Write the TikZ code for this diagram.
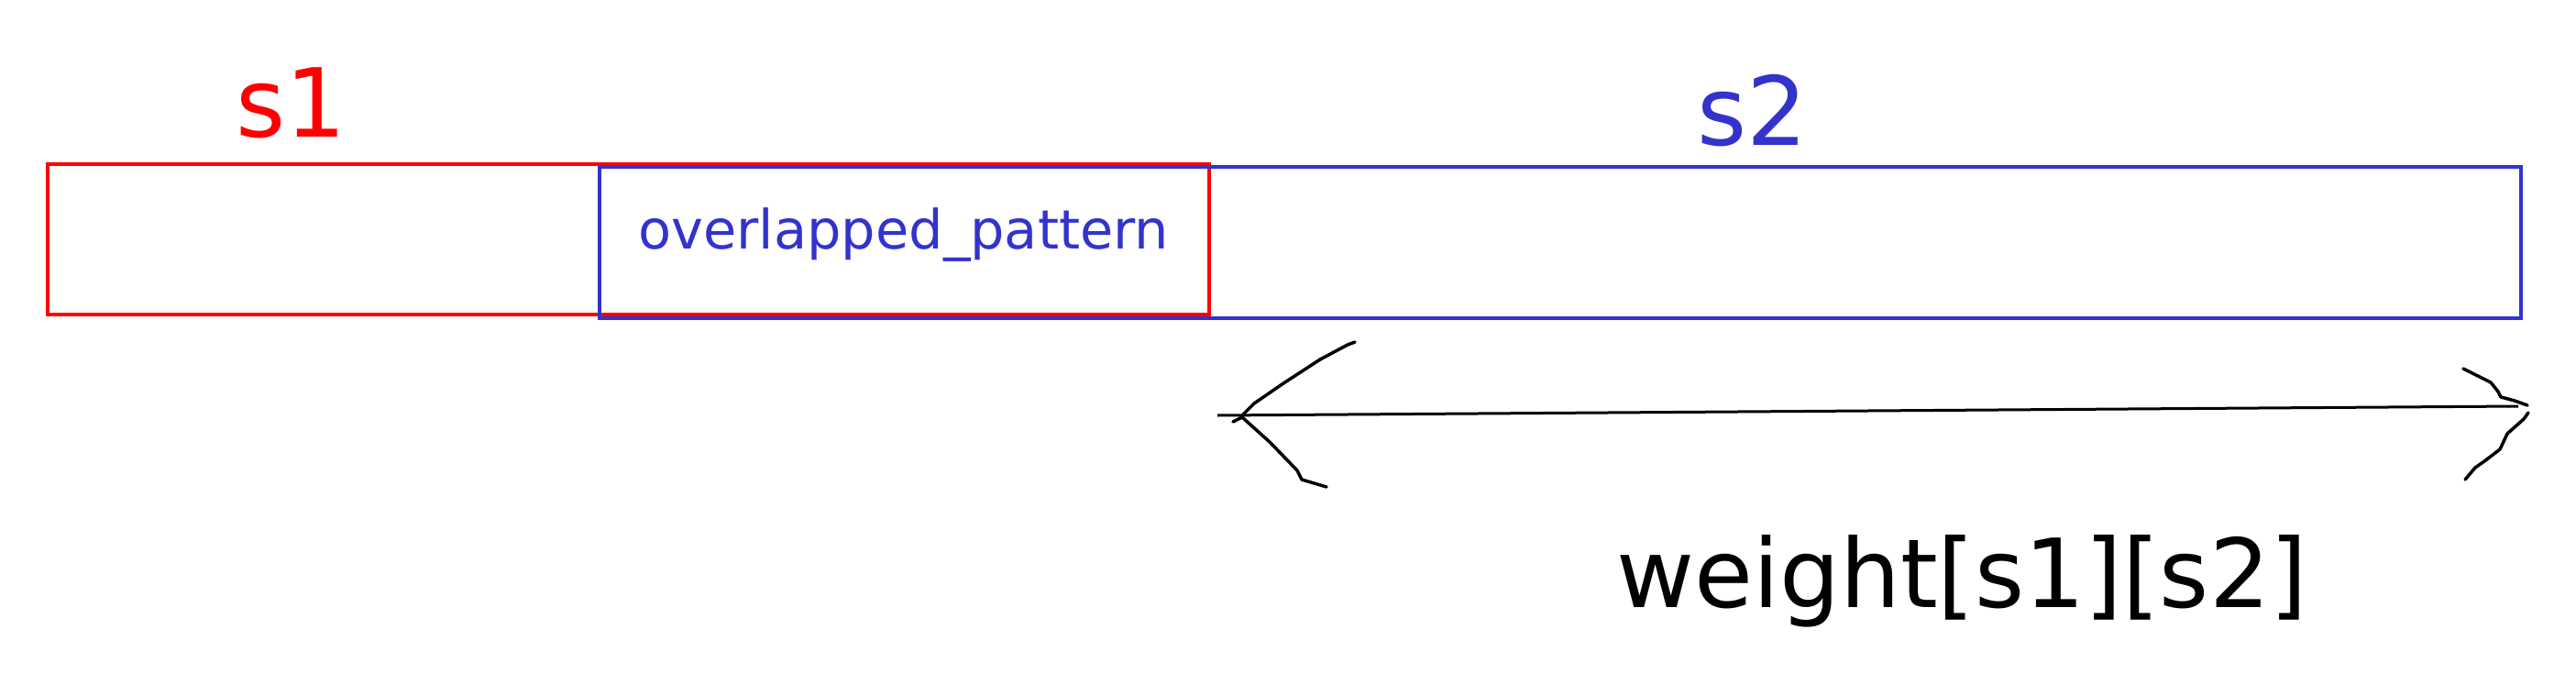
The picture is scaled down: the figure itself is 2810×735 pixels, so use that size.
\documentclass[tikz,border=0pt]{standalone}
\usepackage{fontspec}
\setmainfont{DejaVu Sans}
\definecolor{sred}{RGB}{255,0,0}
\definecolor{sblue}{RGB}{51,51,204}
\begin{document}
\begin{tikzpicture}[x=1pt,y=-1pt,
  boxline/.style={line width=4pt},
  lbl/.style={inner sep=0pt, anchor=base west},
  bigfont/.style={font=\fontsize{104}{120}\selectfont},
  headline/.style={line width=3.5pt, line cap=round, line join=round}]
\useasboundingbox (0,0) rectangle (2810,735);
\fill[white] (0,0) rectangle (2810,735);
% boxes
\draw[boxline, sred] (52,179) rectangle (1319,343);
\draw[boxline, sblue] (654,182) rectangle (2750,347);
% labels
\node[lbl, bigfont, text=sred] (s1) at (257,150) {s1};
\node[lbl, bigfont, text=sblue] (s2) at (1851,159) {s2};
\node[lbl, text=sblue, font=\fontsize{59}{70}\selectfont] (ov) at (696,272) {overlapped\_pattern};
\node[lbl, bigfont, text=black] (w) at (1763,662) {weight[s1][s2]};
% arrow
\coordinate (aL) at (1328,453);
\coordinate (aR) at (2747,443);
\draw[line width=3pt] (aL) -- (aR);
% left head
\draw[headline] (1353,455) -- (1368,440) -- (1400,418) -- (1440,392) -- (1470,376) -- (1478,373);
\draw[headline] (1345,460) -- (1355,455) -- (1385,482) -- (1415,513) -- (1420,523) -- (1447,531);
% right head
\draw[headline] (2687,402) -- (2707,412) -- (2717,417) -- (2725,427) -- (2728,433) -- (2743,437) -- (2757,442);
\draw[headline] (2758,450) -- (2753,457) -- (2735,473) -- (2727,490) -- (2710,503) -- (2700,510) -- (2689,523);
\end{tikzpicture}
\end{document}
